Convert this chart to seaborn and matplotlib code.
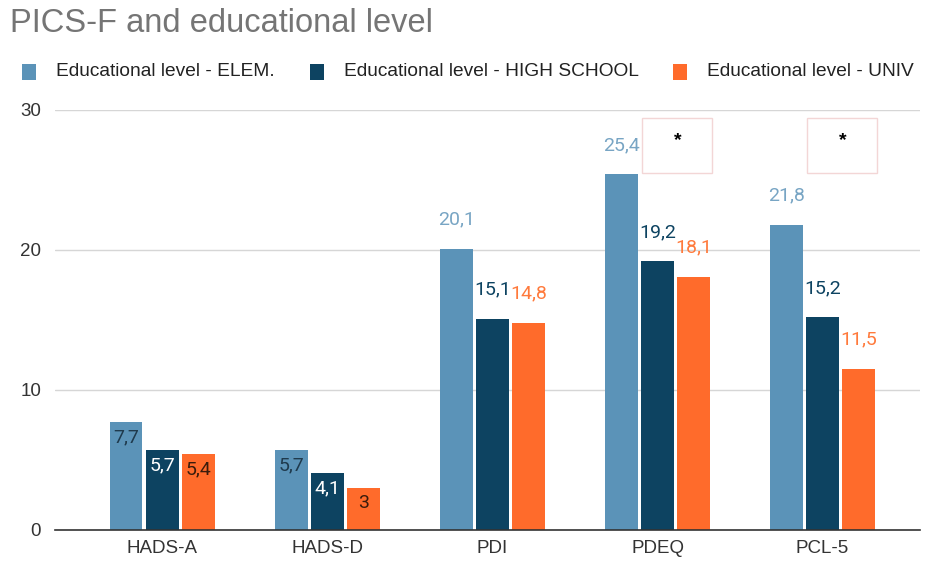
import matplotlib
matplotlib.use("Agg")
import matplotlib.pyplot as plt
import seaborn as sns
import pandas as pd
from matplotlib.patches import Rectangle

categories = ["HADS-A", "HADS-D", "PDI", "PDEQ", "PCL-5"]
series_names = ["Educational level - ELEM.", "Educational level - HIGH SCHOOL", "Educational level - UNIV"]
elem = [7.7, 5.7, 20.1, 25.4, 21.8]
high_school = [5.7, 4.1, 15.1, 19.2, 15.2]
univ = [5.4, 3.0, 14.8, 18.1, 11.5]
label_texts = [
    ["7,7", "5,7", "20,1", "25,4", "21,8"],
    ["5,7", "4,1", "15,1", "19,2", "15,2"],
    ["5,4", "3", "14,8", "18,1", "11,5"],
]
significant = ["PDEQ", "PCL-5"]
y_ticks = [0, 10, 20, 30]

colors = ["#5b93b8", "#0d4361", "#ff6b2b"]
label_colors = ["#78a5c4", "#0d4361", "#ff7a3c"]
inside_colors = ["#1f3a4d", "#ffffff", "#3a1c0c"]

rows = []
for name, vals in zip(series_names, [elem, high_school, univ]):
    for c, v in zip(categories, vals):
        rows.append({"cat": c, "series": name, "value": v})
df = pd.DataFrame(rows)

sns.set_theme(style="white")
plt.rcParams["font.family"] = ["Liberation Sans", "DejaVu Sans"]
VAL_FONT = ["Roboto", "DejaVu Sans"]

fig = plt.figure(figsize=(9.25, 5.63), dpi=100)
ax = fig.add_axes([55 / 925, 1 - 530 / 563, 865 / 925, 420 / 563])

sns.barplot(data=df, x="cat", y="value", hue="series", order=categories,
            hue_order=series_names, palette=colors, width=0.655, gap=0.1,
            saturation=1, ax=ax, legend=False, edgecolor="none")

ax.set_ylim(0, 30)
ax.set_xlim(-0.65, 4.59)
ax.set_yticks(y_ticks)
ax.set_yticklabels([str(t) for t in y_ticks], fontsize=13.5, color="#333333")
ax.tick_params(axis="y", length=0, pad=10)
ax.tick_params(axis="x", length=0, pad=7, labelsize=13.5, labelcolor="#333333")
ax.set_xlabel("")
ax.set_ylabel("")
ax.grid(axis="y", color="#d6d6d6", linewidth=1)
ax.set_axisbelow(True)
for s in ["top", "right", "left"]:
    ax.spines[s].set_visible(False)
ax.spines["bottom"].set_color("#333333")
ax.spines["bottom"].set_linewidth(1.2)

# value labels
for si, cont in enumerate(ax.containers):
    for ci, bar in enumerate(cont):
        h = bar.get_height()
        x = bar.get_x() + bar.get_width() / 2
        txt = label_texts[si][ci]
        if h < 10:
            ax.annotate(txt, (x, h), xytext=(0, -11), textcoords="offset points",
                        ha="center", va="center", fontsize=14, family=VAL_FONT,
                        color=inside_colors[si])
        else:
            ax.annotate(txt, (x, h), xytext=(0, 21), textcoords="offset points",
                        ha="center", va="center", fontsize=14, family=VAL_FONT,
                        color=label_colors[si])

# significance boxes
for c in significant:
    i = categories.index(c)
    ax.add_patch(Rectangle((i + 0.12 - 0.212, 25.5), 0.424, 3.9, fill=False,
                           edgecolor="#f3d6d6", linewidth=1, clip_on=False))
    ax.text(i + 0.12, 27.8, "*", ha="center", va="center", fontsize=14,
            color="#000000", fontweight="bold")

fig.text(10 / 925, 1 - 23 / 563, "PICS-F and educational level", fontsize=23.5,
         color="#757575", ha="left", va="center")

# legend
legend_x = [22, 310, 673]
for name, col, lx in zip(series_names, colors, legend_x):
    fig.patches.append(Rectangle((lx / 925, 1 - 80 / 563), 14 / 925, 16 / 563,
                                 transform=fig.transFigure, facecolor=col,
                                 edgecolor="none"))
    fig.text((lx + 34) / 925, 1 - 72 / 563, name, fontsize=13.8,
             color="#222222", ha="left", va="center")

fig.savefig("out.png", dpi=100)
